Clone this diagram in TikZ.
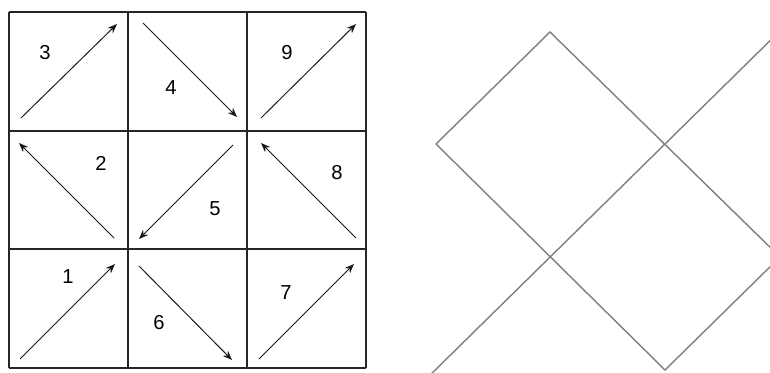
\documentclass[tikz,border=0pt]{standalone}
\usepackage{fontspec}
\setmainfont{Liberation Sans}
\usetikzlibrary{arrows.meta}

\begin{document}
\begin{tikzpicture}[
    x=0.02cm, y=-0.02cm,
    >={Stealth[length=5.4pt, width=4.2pt]},
    cell_line/.style={draw=black!85, line width=0.8pt},
    move_arrow/.style={->, line width=0.55pt, color=black!90},
    step_label/.style={font=\fontsize{11.5}{13}\selectfont, inner sep=0pt},
    tile_line/.style={draw=black!50, line width=0.8pt, line join=miter}
]
    \fill[white] (0,0) rectangle (770,372);
    \useasboundingbox (0,0) rectangle (770,372);

    % 3x3 grid
    \foreach \gx in {9,128,247,366} {
        \draw[cell_line] (\gx,12) -- (\gx,368);
    }
    \foreach \gy in {12,131,249,368} {
        \draw[cell_line] (9,\gy) -- (366,\gy);
    }

    % Move arrows, one per cell
    \foreach \n/\sx/\sy/\ex/\ey in {
        1/20/359/115/264,  2/114/238/19/143,  3/21/118/117/24,
        4/143/23/237/117,  5/233/145/139/239, 6/139/266/232/360,
        7/259/359/354/264, 8/356/238/261/143, 9/261/118/356/24} {
        \coordinate (s\n) at (\sx,\sy);
        \coordinate (e\n) at (\ex,\ey);
        \draw[move_arrow] (s\n) -- (e\n);
    }

    % Step numbers
    \node[step_label] (n1) at (68,277) {1};
    \node[step_label] (n2) at (101,163) {2};
    \node[step_label] (n3) at (45,53) {3};
    \node[step_label] (n4) at (171,88) {4};
    \node[step_label] (n5) at (215,209) {5};
    \node[step_label] (n6) at (159,323) {6};
    \node[step_label] (n7) at (286,293) {7};
    \node[step_label] (n8) at (337,173) {8};
    \node[step_label] (n9) at (287,53) {9};

    % Rotated tiling on the right
    \begin{scope}
        \clip (420,0) rectangle (770,372);
        \draw[tile_line] (436,144) -- (550,32) -- (780,257) -- (665,370) -- cycle;
        \draw[tile_line] (420,385) -- (790,21);
    \end{scope}
\end{tikzpicture}
\end{document}
